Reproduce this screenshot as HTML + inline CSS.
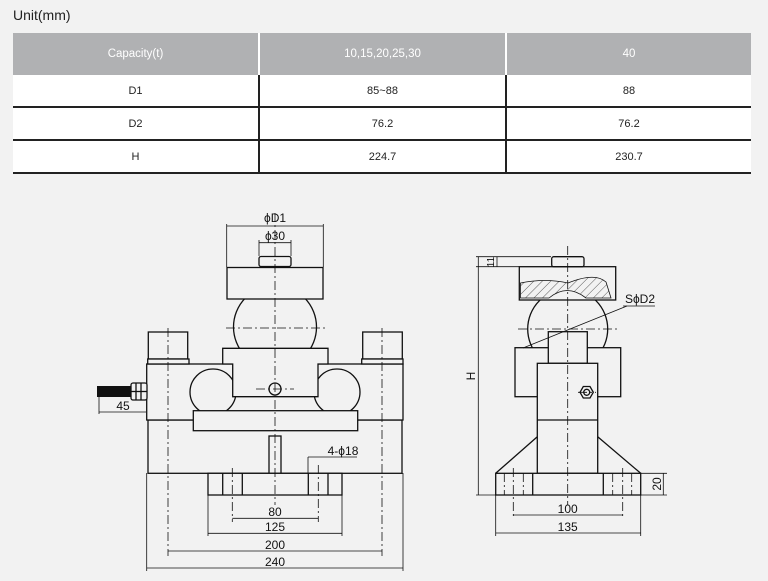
<!DOCTYPE html>
<html><head><style>
html,body{margin:0;padding:0;background:#f2f2f2;width:768px;height:581px;overflow:hidden;font-family:"Liberation Sans",Arial,sans-serif}
.u{position:absolute;left:13px;top:7px;font-size:14px;color:#222}
table{position:absolute;left:13px;top:33px;width:738px;border-collapse:collapse;font-size:11px;color:#222}
td{text-align:center;padding:0;background:#fff}
tr.h td{background:#b0b1b3;color:#fff;height:42px;font-size:11.5px}
tr.h td+td{border-left:2px solid #fff}
tr.r td{height:31px;border-bottom:2px solid #222}
tr.r td+td{border-left:2px solid #222}
svg{position:absolute;left:0;top:0}
</style></head><body>
<div class="u">Unit(mm)</div>
<table>
<tr class="h"><td style="width:245px">Capacity(t)</td><td style="width:245px">10,15,20,25,30</td><td>40</td></tr>
<tr class="r"><td>D1</td><td>85~88</td><td>88</td></tr>
<tr class="r"><td>D2</td><td>76.2</td><td>76.2</td></tr>
<tr class="r"><td>H</td><td>224.7</td><td>230.7</td></tr>
</table>
<svg width="768" height="581" viewBox="0 0 768 581" font-family="Liberation Sans, Arial, sans-serif" font-size="11" fill="none" stroke="#111">
<defs><pattern id="hp" width="6" height="6" patternUnits="userSpaceOnUse" patternTransform="rotate(45)"><line x1="0" y1="0" x2="0" y2="6" stroke="#333" stroke-width="0.8"/></pattern></defs>
<g stroke-width="1.3" fill="#f2f2f2">
<!-- LEFT VIEW -->
<circle cx="275" cy="327" r="41.5"/>
<rect x="227" y="267.5" width="96" height="31.5"/>
<rect x="259" y="256.5" width="32" height="10" rx="2"/>
<rect x="148" y="420" width="254" height="53.3"/>
<rect x="146.7" y="364" width="256.3" height="56"/>
<circle cx="213" cy="392" r="23"/>
<circle cx="337" cy="392" r="23"/>
<path d="M222.7 348.3 H328 V364 H318 V396.7 H232.7 V364 H222.7 Z"/>
<rect x="193.3" y="410.7" width="164.4" height="20"/>
<rect x="269" y="436" width="12" height="37.3"/>
<rect x="208" y="473.3" width="134" height="21.7"/>
<line x1="222.7" y1="473.3" x2="222.7" y2="495"/><line x1="242.3" y1="473.3" x2="242.3" y2="495"/>
<line x1="308.3" y1="473.3" x2="308.3" y2="495"/><line x1="328" y1="473.3" x2="328" y2="495"/>
<rect x="148.3" y="332" width="39.4" height="27"/><rect x="147.7" y="359" width="41.3" height="5"/>
<rect x="362.7" y="332" width="39.6" height="27"/><rect x="361.7" y="359" width="41.3" height="5"/>
<circle cx="275" cy="389" r="6"/>
<rect x="97" y="386" width="36" height="11" fill="#111" stroke="none"/>
<rect x="131" y="383" width="16" height="17" rx="2"/>
<line x1="136" y1="383" x2="136" y2="400"/><line x1="141" y1="383" x2="141" y2="400"/><line x1="131" y1="391.5" x2="147" y2="391.5"/>
</g>
<g stroke-width="0.8" stroke-dasharray="9,3,2,3">
<line x1="275" y1="213" x2="275" y2="505"/>
<line x1="226" y1="328" x2="325" y2="328"/>
<line x1="168" y1="328" x2="168" y2="556"/>
<line x1="382" y1="328" x2="382" y2="556"/>
<line x1="232.3" y1="468" x2="232.3" y2="522"/>
<line x1="318.3" y1="465" x2="318.3" y2="522"/>
<line x1="256" y1="389" x2="294" y2="389"/>
</g>
<g stroke-width="0.8">
<line x1="226.7" y1="224" x2="226.7" y2="267"/><line x1="323.3" y1="224" x2="323.3" y2="267"/>
<line x1="226.7" y1="226" x2="323.3" y2="226"/>
<line x1="259" y1="240" x2="259" y2="256"/><line x1="291" y1="240" x2="291" y2="256"/>
<line x1="259" y1="242.7" x2="291" y2="242.7"/>
<line x1="99" y1="395" x2="99" y2="414"/><line x1="99" y1="412" x2="146" y2="412"/>
<line x1="308" y1="457" x2="308" y2="473"/><line x1="308" y1="457" x2="357" y2="457"/>
<line x1="208" y1="495" x2="208" y2="536"/><line x1="342" y1="495" x2="342" y2="536"/>
<line x1="146.7" y1="473" x2="146.7" y2="571"/><line x1="403" y1="473" x2="403" y2="571"/>
<line x1="232.3" y1="518.3" x2="318.3" y2="518.3"/>
<line x1="208" y1="533.3" x2="342" y2="533.3"/>
<line x1="168" y1="551" x2="382" y2="551"/>
<line x1="146.7" y1="568" x2="403" y2="568"/>
</g>
<g fill="#111" stroke="none" font-size="12" text-anchor="middle">
<text x="275" y="222">ϕD1</text><text x="275" y="240">ϕ30</text>
<text x="123" y="410">45</text><text x="343" y="455">4-ϕ18</text>
<text x="275" y="516">80</text><text x="275" y="531">125</text>
<text x="275" y="549">200</text><text x="275" y="566">240</text>
</g>
<!-- RIGHT VIEW -->
<g stroke-width="1.3" fill="#f2f2f2">
<circle cx="567.7" cy="329" r="40"/>
<rect x="519.3" y="266.7" width="96.4" height="33.3"/>
<path d="M520.5 283 Q545 278 568 283 Q595 272 606 282 L611 298 H586 Q567 283 549 298 H520.5 Z" fill="url(#hp)" stroke-width="0.8"/>
<rect x="551.7" y="256.7" width="32.3" height="10" rx="2"/>
<rect x="515" y="347.7" width="105.7" height="49"/>
<rect x="548.3" y="331.7" width="39" height="31.6"/>
<rect x="537.3" y="363.3" width="60.4" height="110"/>
<line x1="537.3" y1="420" x2="597.7" y2="420"/>
<polygon points="580,392.3 583.3,386.5 590,386.5 593.3,392.3 590,398 583.3,398"/>
<circle cx="586.7" cy="392.3" r="3"/>
<rect x="495.7" y="473.3" width="145" height="21.7"/>
<line x1="532.7" y1="473.3" x2="532.7" y2="495"/><line x1="603.3" y1="473.3" x2="603.3" y2="495"/>
<line x1="495.7" y1="473.3" x2="537.3" y2="436.7"/><line x1="640.7" y1="473.3" x2="597.7" y2="436.7"/>
</g>
<g stroke-width="0.8" stroke-dasharray="9,3,2,3">
<line x1="567.7" y1="246" x2="567.7" y2="505"/>
<line x1="518" y1="329" x2="618" y2="329"/>
<line x1="513.3" y1="468" x2="513.3" y2="518"/><line x1="622.7" y1="468" x2="622.7" y2="518"/>
<line x1="504.3" y1="473" x2="504.3" y2="495"/><line x1="523.3" y1="473" x2="523.3" y2="495"/>
<line x1="612.7" y1="473" x2="612.7" y2="495"/><line x1="631.7" y1="473" x2="631.7" y2="495"/>
<line x1="578" y1="392.3" x2="596" y2="392.3"/>
</g>
<g stroke-width="0.8">
<line x1="476" y1="256.7" x2="551" y2="256.7"/><line x1="476" y1="266.7" x2="519" y2="266.7"/>
<line x1="476" y1="495" x2="496" y2="495"/>
<line x1="478.3" y1="256.7" x2="478.3" y2="495"/>
<line x1="497" y1="256.7" x2="497" y2="266.7"/>
<line x1="523" y1="348" x2="627" y2="306"/><line x1="623" y1="306" x2="655" y2="306"/>
<line x1="640.7" y1="473.3" x2="667" y2="473.3"/><line x1="640.7" y1="495" x2="667" y2="495"/>
<line x1="663.3" y1="473.3" x2="663.3" y2="495"/>
<line x1="495.7" y1="495" x2="495.7" y2="536"/><line x1="640.7" y1="495" x2="640.7" y2="536"/>
<line x1="513.3" y1="515" x2="622.7" y2="515"/>
<line x1="495.7" y1="533" x2="640.7" y2="533"/>
</g>
<g fill="#111" stroke="none" font-size="12" text-anchor="middle">
<text x="640" y="303">SϕD2</text>
<text x="567.7" y="513">100</text><text x="567.7" y="531">135</text>
<text transform="translate(475,376) rotate(-90)">H</text>
<text transform="translate(494,262) rotate(-90)" font-size="10">11</text>
<text transform="translate(661,484) rotate(-90)">20</text>
</g>
</svg>
</body></html>
